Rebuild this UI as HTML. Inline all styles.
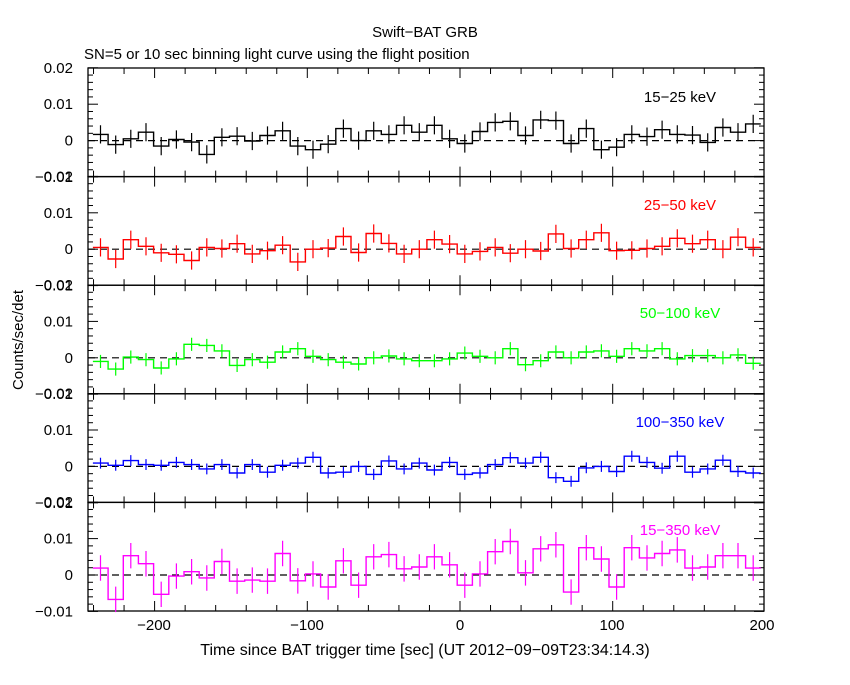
<!DOCTYPE html>
<html><head><meta charset="utf-8"><style>
body{margin:0;background:#fff;}
svg text{font-family:"Liberation Sans",sans-serif;}
</style></head><body>
<svg id="s" width="850" height="680" xmlns="http://www.w3.org/2000/svg">
<rect width="850" height="680" fill="#fff"/>
<text x="425" y="37" font-size="15" text-anchor="middle">Swift−BAT GRB</text>
<text x="84" y="59" font-size="15">SN=5 or 10 sec binning light curve using the flight position</text>
<text x="425" y="655" font-size="16" text-anchor="middle">Time since BAT trigger time [sec] (UT 2012−09−09T23:34:14.3)</text>
<text transform="translate(23,340) rotate(-90)" font-size="15" text-anchor="middle">Counts/sec/det</text>
<g font-size="15" text-anchor="middle">
<text x="154" y="630">−200</text><text x="307" y="630">−100</text><text x="460" y="630">0</text><text x="612" y="630">100</text><text x="762" y="630">200</text>
</g>
<g id="g"></g>
<g font-size="15">
<text x="680" y="102" text-anchor="middle">15−25 keV</text>
<text x="680" y="210" text-anchor="middle" fill="#f00">25−50 keV</text>
<text x="680" y="318" text-anchor="middle" fill="#0f0">50−100 keV</text>
<text x="680" y="427" text-anchor="middle" fill="#00f">100−350 keV</text>
<text x="680" y="535" text-anchor="middle" fill="#f0f">15−350 keV</text>
</g>
</svg>
<script>
(function(){
var D=[
["#000",0.0025,[17,-11,5,23,-15,3,-4,-38,9,12,-1,14,27,-15,-25,-10,33,0,27,17,42,23,42,5,-8,25,50,53,14,57,55,-8,33,-25,-18,17,11,30,17,15,-5,36,23,46]],
["#f00",0.0025,[5,-27,26,8,-10,-14,-31,5,2,15,-13,-4,11,-35,0,3,35,-9,43,16,-13,0,26,14,-13,-6,5,-11,0,-5,42,2,26,45,-4,-3,2,8,30,15,26,0,33,5]],
["#0f0",0.0018,[-10,-31,2,-5,-28,-3,37,34,19,-21,-5,-12,16,25,4,-5,-12,-17,0,5,-3,-8,-8,-3,13,4,0,25,-19,-8,16,0,16,19,4,25,19,25,-3,6,6,0,8,-15]],
["#00f",0.0015,[9,3,16,5,3,11,5,-7,5,-18,5,-16,3,9,25,-18,-16,0,-22,15,-7,9,-10,11,-22,-18,5,24,9,25,-31,-41,-4,0,-14,28,11,-5,28,-16,-7,17,-14,-18]],
["#f0f",0.0035,[19,-67,53,31,-53,-3,9,-8,37,-17,-14,-17,59,-16,3,-33,39,-28,50,56,17,22,50,28,-28,3,64,92,6,72,83,-47,75,44,-33,75,47,59,69,19,22,53,53,19]]
];
var g=document.getElementById('g'),h='';
var L=88,R=764,H=108.6,x0=92.9,bw=15.18,k=3640;
for(var p=0;p<5;p++){
 var tp=68+p*108.6,zero=tp+72.6,d=D[p];
 var Y=function(v){return zero-v*k;};
 h+='<rect x="'+L+'" y="'+tp+'" width="'+(R-L)+'" height="'+H+'" fill="none" stroke="#000" stroke-width="1.3"/>';
 for(var j=-5;j<=10;j++){var yy=Y(j*0.002);if(yy<tp-0.5||yy>tp+H+0.5)continue;var len=(j%5==0)?10:5;
  h+='<line x1="'+L+'" x2="'+(L+len)+'" y1="'+yy+'" y2="'+yy+'" stroke="#000"/>';
  h+='<line x1="'+R+'" x2="'+(R-len)+'" y1="'+yy+'" y2="'+yy+'" stroke="#000"/>';}
 for(var t=-240;t<=200;t+=20){var xx=460+1.527*t;if(xx<L||xx>R)continue;var len2=(t%100==0)?10:6;
  h+='<line x1="'+xx+'" x2="'+xx+'" y1="'+tp+'" y2="'+(tp+len2)+'" stroke="#000"/>';
  h+='<line x1="'+xx+'" x2="'+xx+'" y1="'+(tp+H)+'" y2="'+(tp+H-len2)+'" stroke="#000"/>';}
 var labs=[[0.02,"0.02"],[0.01,"0.01"],[0,"0"],[-0.01,"−0.01"]];
 for(var q=0;q<4;q++){h+='<text x="73" y="'+(Y(labs[q][0])+5)+'" font-size="15" text-anchor="end">'+labs[q][1]+'</text>';}
 h+='<line x1="'+L+'" x2="'+R+'" y1="'+zero+'" y2="'+zero+'" stroke="#000" stroke-dasharray="7,5" stroke-width="1.2"/>';
 var s='',e='';
 for(var i=0;i<d[2].length;i++){var v=d[2][i]/10000,xa=x0+i*bw,xb=xa+bw,yv=Y(v);
  s+=(i==0?'M':'L')+xa.toFixed(1)+','+yv.toFixed(1)+'L'+xb.toFixed(1)+','+yv.toFixed(1);
  var xm=xa+bw/2;e+='M'+xm.toFixed(1)+','+Y(v+d[1]).toFixed(1)+'V'+Y(v-d[1]).toFixed(1);}
 h+='<path d="'+s+'" fill="none" stroke="'+d[0]+'" stroke-width="1.4"/>';
 h+='<path d="'+e+'" fill="none" stroke="'+d[0]+'" stroke-width="1.2"/>';
}
g.innerHTML=h;
})();
</script>
</body></html>
